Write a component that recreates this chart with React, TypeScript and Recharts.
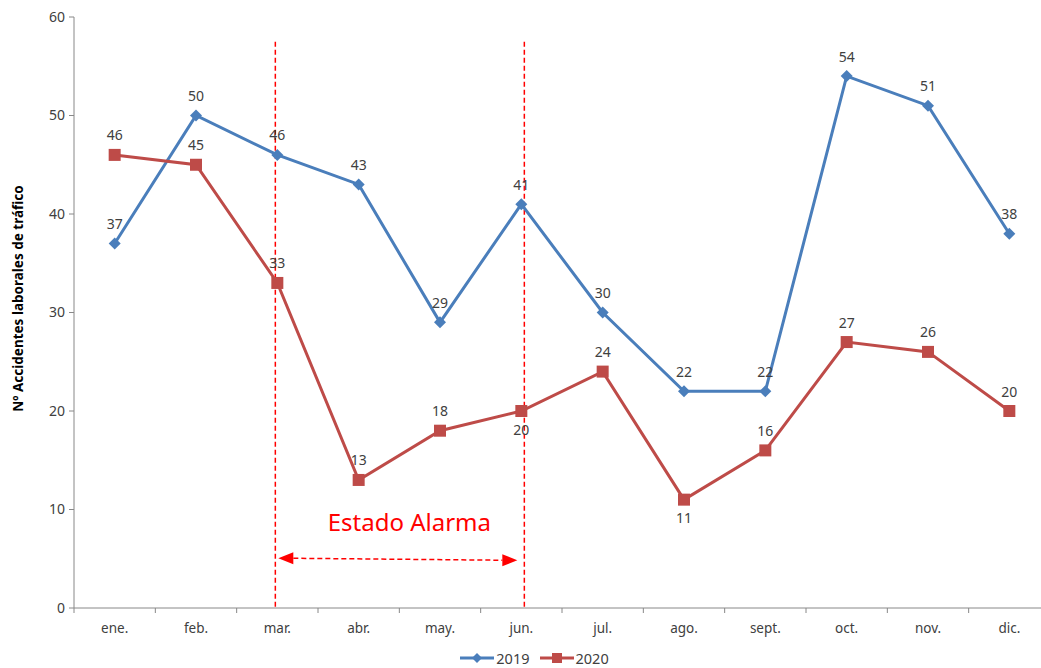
import React from 'react';
import { LineChart, Line, XAxis, YAxis, ReferenceLine, LabelList, Legend } from 'recharts';

const months = ['ene.', 'feb.', 'mar.', 'abr.', 'may.', 'jun.', 'jul.', 'ago.', 'sept.', 'oct.', 'nov.', 'dic.'];
const values2019 = [37, 50, 46, 43, 29, 41, 30, 22, 22, 54, 51, 38];
const values2020 = [46, 45, 33, 13, 18, 20, 24, 11, 16, 27, 26, 20];
const yTicks = [0, 10, 20, 30, 40, 50, 60];
const labelsBelow2020 = ['jun.', 'ago.'];
const alarmStart = 'mar.';
const alarmEnd = 'jun.';
const alarmText = 'Estado Alarma';
const yTitle = 'Nº Accidentes laborales de tráfico';

const data = months.map((m, i) => ({ m, v2019: values2019[i], v2020: values2020[i] }));

const BLUE = '#4A7EBB';
const RED = '#BE4B48';
const ALARM = '#FF0000';
const TEXT = '#404040';
const AXIS = '#888888';
const FONT = '"Noto Sans", sans-serif';

const CHART_W = 1100;
const MARGIN_RIGHT = 50;
const Y_AXIS_W = 74;
const HALF_BAND = (CHART_W - MARGIN_RIGHT - Y_AXIS_W) / months.length / 2;
const TICK_MARGIN = 15;
const TICK_LEN = 5;

const Diamond = (props: any) => {
  const { cx, cy } = props;
  if (cx == null || cy == null) return null;
  const r = 6;
  return <polygon points={`${cx},${cy - r} ${cx + r},${cy} ${cx},${cy + r} ${cx - r},${cy}`} fill={BLUE} />;
};

const Square = (props: any) => {
  const { cx, cy } = props;
  if (cx == null || cy == null) return null;
  const s = 12;
  return <rect x={cx - s / 2} y={cy - s / 2} width={s} height={s} fill={RED} />;
};

const MonthTick = (props: any) => {
  const { x, y, payload, index } = props;
  const axisY = y - TICK_MARGIN;
  const isLast = index === months.length - 1 || payload?.value === months[months.length - 1];
  return (
    <g>
      <line x1={x - HALF_BAND} y1={axisY} x2={x - HALF_BAND} y2={axisY + TICK_LEN} stroke={AXIS} />
      {isLast && <line x1={x + HALF_BAND} y1={axisY} x2={x + HALF_BAND} y2={axisY + TICK_LEN} stroke={AXIS} />}
      <text x={x} y={y} dy="0.71em" textAnchor="middle" fontFamily={FONT} fontSize={13.5} fill={TEXT}>
        {payload.value}
      </text>
    </g>
  );
};

const makeLabel = (below: string[]) => (props: any) => {
  const { x, y, value, index } = props;
  const isBelow = below.includes(months[index]);
  return (
    <text
      x={x}
      y={isBelow ? y + 18 : y - 20}
      textAnchor="middle"
      dominantBaseline="central"
      fontFamily={FONT}
      fontSize={14}
      fill={TEXT}
    >
      {value}
    </text>
  );
};

const makeVLine = (dx: number) => (props: any) => {
  const { x1, y1, x2, y2 } = props;
  return (
    <line x1={x1 + dx} y1={y1} x2={x2 + dx} y2={y2} stroke={ALARM} strokeWidth={1.5} strokeDasharray="5 3" />
  );
};

const ArrowShape = (props: any) => {
  const { x1, y1, x2, y2 } = props;
  const lx = x1 + 1;
  const rx = x2 - 4;
  const hl = 15;
  const hw = 6;
  return (
    <g>
      <line x1={lx + hl} y1={y1} x2={rx - hl} y2={y2} stroke={ALARM} strokeWidth={1.5} strokeDasharray="5 3" />
      <polygon points={`${lx},${y1} ${lx + hl},${y1 - hw} ${lx + hl},${y1 + hw}`} fill={ALARM} />
      <polygon points={`${rx},${y2} ${rx - hl},${y2 - hw} ${rx - hl},${y2 + hw}`} fill={ALARM} />
      <text
        x={(x1 + x2) / 2 + 10}
        y={(y1 + y2) / 2 - 38}
        textAnchor="middle"
        dominantBaseline="central"
        fontFamily={FONT}
        fontSize={24}
        fill={ALARM}
      >
        {alarmText}
      </text>
    </g>
  );
};

const YTitle = (props: any) => {
  const vb = props.viewBox || {};
  const cx = (vb.x || 0) + 18;
  const cy = (vb.y || 0) + (vb.height || 0) / 2 - 14;
  return (
    <text
      x={cx}
      y={cy}
      transform={`rotate(-90 ${cx} ${cy})`}
      textAnchor="middle"
      dominantBaseline="central"
      fontFamily={FONT}
      fontWeight="bold"
      fontSize={13.5}
      fill="#000"
    >
      {yTitle}
    </text>
  );
};

const LegendContent = () => (
  <div style={{ display: 'flex', justifyContent: 'center', alignItems: 'center', fontFamily: FONT, fontSize: 14.5, color: TEXT, paddingLeft: 28, width: 1041, boxSizing: 'border-box', height: 20 }}>
    <svg width={34} height={14} style={{ marginRight: 2 }}>
      <line x1={0} y1={7} x2={34} y2={7} stroke={BLUE} strokeWidth={3} />
      <polygon points="17,2 22,7 17,12 12,7" fill={BLUE} />
    </svg>
    <span style={{ marginRight: 10 }}>2019</span>
    <svg width={34} height={14} style={{ marginRight: 2 }}>
      <line x1={0} y1={7} x2={34} y2={7} stroke={RED} strokeWidth={3} />
      <rect x={12} y={2} width={10} height={10} fill={RED} />
    </svg>
    <span>2020</span>
  </div>
);

export default function App() {
  return (
    <div style={{ position: 'absolute', left: 0, top: 0, width: 1041, height: 668, overflow: 'hidden', background: '#fff' }}>
      <LineChart width={CHART_W} height={668} data={data} margin={{ top: 17, right: MARGIN_RIGHT, left: 0, bottom: 0 }}>
        <XAxis
          dataKey="m"
          padding={{ left: HALF_BAND, right: HALF_BAND }}
          tickLine={false}
          tickSize={0}
          stroke={AXIS}
          height={40}
          tickMargin={TICK_MARGIN}
          interval={0}
          tick={<MonthTick />}
        />
        <YAxis
          width={Y_AXIS_W}
          domain={[0, 60]}
          ticks={yTicks}
          tickSize={5}
          tickMargin={4}
          stroke={AXIS}
          tick={{ fontFamily: FONT, fontSize: 14, fill: TEXT }}
          label={<YTitle />}
        />
        <Legend verticalAlign="bottom" height={20} content={<LegendContent />} wrapperStyle={{ left: 0, width: 1041 }} />
        <ReferenceLine
          segment={[{ x: alarmStart, y: 57.5 }, { x: alarmStart, y: 0 }]}
          shape={makeVLine(-2)}
          ifOverflow="visible"
        />
        <ReferenceLine
          segment={[{ x: alarmEnd, y: 57.5 }, { x: alarmEnd, y: 0 }]}
          shape={makeVLine(3)}
          ifOverflow="visible"
        />
        <ReferenceLine
          segment={[{ x: alarmStart, y: 5.05 }, { x: alarmEnd, y: 4.85 }]}
          shape={<ArrowShape />}
          ifOverflow="visible"
        />
        <Line
          type="linear"
          dataKey="v2019"
          name="2019"
          stroke={BLUE}
          strokeWidth={3}
          dot={<Diamond />}
          activeDot={false}
          isAnimationActive={false}
        >
          <LabelList dataKey="v2019" content={makeLabel([])} />
        </Line>
        <Line
          type="linear"
          dataKey="v2020"
          name="2020"
          stroke={RED}
          strokeWidth={3}
          dot={<Square />}
          activeDot={false}
          isAnimationActive={false}
        >
          <LabelList dataKey="v2020" content={makeLabel(labelsBelow2020)} />
        </Line>
      </LineChart>
    </div>
  );
}
